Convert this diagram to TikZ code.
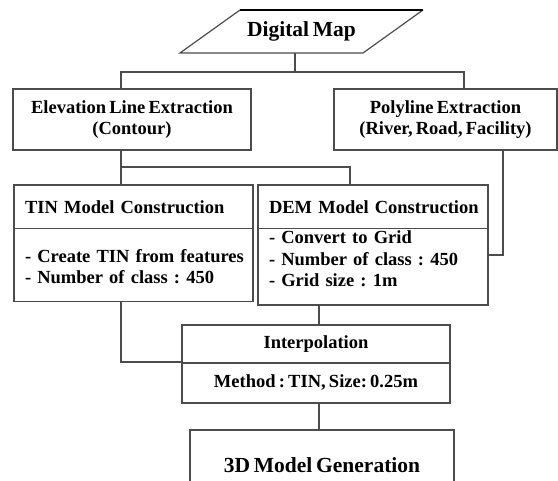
\documentclass[tikz,border=0pt]{standalone}
\usepackage{fontspec}
\setmainfont{Liberation Serif}[WordSpace=0.7]
\usepackage{tikz}
\usetikzlibrary{shapes.multipart}

\tikzset{
  box/.style={draw=black!70, line width=1.2pt, rectangle, inner sep=0pt, outer sep=0pt, align=center},
  splitbox/.style={draw=black!70, line width=1.2pt, rectangle split, rectangle split parts=2,
    rectangle split part align={left}, inner xsep=11pt, inner ysep=0pt, outer sep=0pt, text width=#1},
  link/.style={draw=black!70, line width=1.2pt},
  bigtext/.style={font=\fontsize{21.5}{24}\selectfont\bfseries\frenchspacing}
}

\begin{document}
\begin{tikzpicture}[x=1pt, y=-1pt, every node/.style={font=\fontsize{18.5}{21.5}\selectfont\bfseries\frenchspacing}]
\useasboundingbox (0,0) rectangle (558,481);
\clip (0,0) rectangle (558,481);
\node[bigtext] (map) at (301.5,31.5) {Digital Map};
\draw[link] (240,10) -- (180,53) coordinate (mapbase) -- (363,53) -- (423,10);
\draw[line width=1.8pt] (240,10) -- (423,10);
\node[box, minimum width=238pt, minimum height=61pt] (elev) at (132,119.5) {Elevation Line Extraction\\(Contour)};
\node[box, minimum width=223pt, minimum height=61pt] (poly) at (445.5,119.5) {Polyline Extraction\\(River, Road, Facility)};
\node[splitbox=217pt, anchor=north] (tin) at (133.5,185) {%
  \rule[-14pt]{0pt}{42pt}\mbox{TIN Model Construction}%
  \nodepart{two}\rule[-28pt]{0pt}{72pt}\begin{tabular}[c]{@{}l@{}}- Create TIN from features\\- Number of class : 450\end{tabular}};
\node[splitbox=208pt, anchor=north] (dem) at (373,185) {%
  \rule[-14pt]{0pt}{42pt}\mbox{DEM Model Construction}%
  \nodepart{two}\rule[-39pt]{0pt}{72pt}\begin{tabular}[c]{@{}l@{}}- Convert to Grid\\- Number of class : 450\\- Grid size : 1m\end{tabular}};
\node[box, minimum width=268pt, minimum height=38pt] (interphead) at (316,344) {Interpolation};
\node[box, minimum width=268pt, minimum height=40pt, anchor=north] (interpbody) at (interphead.south) {Method : TIN, Size: 0.25m};
\node[box, bigtext, minimum width=264pt, minimum height=70pt, anchor=north] (gen) at (322,430) {3D Model Generation};
\coordinate (split) at (295,72);
\coordinate (eb) at (121,72);
\coordinate (pb) at (464,72);
\coordinate (ej) at (121,167);
\coordinate (dj) at (350,167);
\coordinate (pj) at (503,255);
\coordinate (tj) at (121,362);
\coordinate (axis) at (319,0);
\draw[link] (split |- mapbase) -- (split);
\draw[link] (eb |- elev.north) -- (eb) -- (pb) -- (pb |- poly.north);
\draw[link] (ej |- elev.south) -- (ej |- tin.north);
\draw[link] (ej) -- (dj) -- (dj |- dem.north);
\draw[link] (pj |- poly.south) -- (pj) -- (pj -| dem.east);
\draw[link] (tj |- tin.south) -- (tj) -- (tj -| interphead.west);
\draw[link] (axis |- dem.south) -- (axis |- interphead.north);
\draw[link] (axis |- interpbody.south) -- (axis |- gen.north);
\end{tikzpicture}
\end{document}
